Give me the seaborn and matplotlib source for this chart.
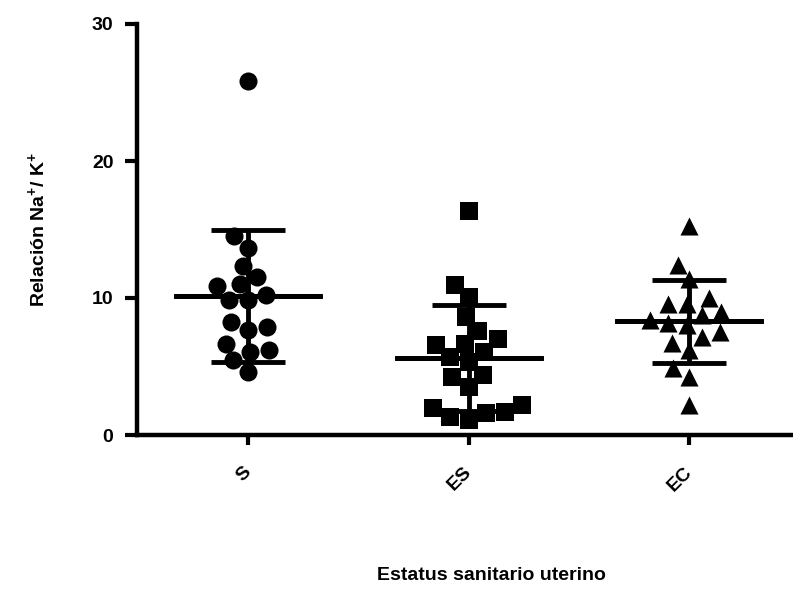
import numpy as np
import pandas as pd
import matplotlib
matplotlib.use("Agg")
import matplotlib.pyplot as plt
import seaborn as sns

# ---- data ----
categorias = ["S", "ES", "EC"]
valores_S = [25.86, 14.55, 13.67, 12.36, 11.02, 11.53, 10.88, 10.24, 9.83,
             9.85, 8.27, 7.64, 7.88, 6.66, 6.20, 6.04, 5.45, 4.62]
valores_ES = [16.35, 10.95, 10.05, 8.64, 7.59, 6.64, 6.98, 6.08, 6.57, 5.35,
              5.72, 4.21, 4.38, 3.53, 1.95, 2.19, 1.63, 1.70, 1.09, 1.34]
valores_EC = [15.23, 12.41, 11.36, 10.02, 9.54, 9.54, 8.78, 8.96, 8.18, 8.39,
              8.00, 7.18, 7.50, 6.69, 6.20, 4.91, 4.21, 2.19]
y_ticks = [0, 10, 20, 30]
x_titulo = "Estatus sanitario uterino"
y_titulo = r"Relación Na$^{+}$/ K$^{+}$"

marcadores = {"S": "o", "ES": "s", "EC": "^"}

df = pd.DataFrame({
    "grupo": (["S"] * len(valores_S) + ["ES"] * len(valores_ES)
              + ["EC"] * len(valores_EC)),
    "valor": valores_S + valores_ES + valores_EC,
})

plt.rcParams["font.family"] = ["Liberation Sans", "DejaVu Sans"]
plt.rcParams["font.weight"] = "bold"
plt.rcParams["mathtext.fontset"] = "custom"
plt.rcParams["mathtext.rm"] = "Liberation Sans:bold"
plt.rcParams["mathtext.bf"] = "Liberation Sans:bold"
plt.rcParams["mathtext.default"] = "bf"

fig = plt.figure(figsize=(7.93, 5.91), dpi=100)
ax = fig.add_axes([137 / 793, 156 / 591, 656 / 793, 411 / 591])

for cat in categorias:
    sns.swarmplot(data=df[df["grupo"] == cat], x="grupo", y="valor",
                  order=categorias, marker=marcadores[cat], size=13,
                  color="black", linewidth=0, ax=ax, zorder=2)

# mean +/- SD
sns.pointplot(data=df, x="grupo", y="valor", order=categorias,
              errorbar="sd", capsize=0.336, color="black",
              marker="", linestyle="none",
              err_kws={"linewidth": 3.5, "zorder": 5, "solid_capstyle": "butt"},
              ax=ax)
# mean line
sns.pointplot(data=df, x="grupo", y="valor", order=categorias,
              errorbar=lambda v: (np.mean(v), np.mean(v)), capsize=0.672,
              color="black", marker="", linestyle="none",
              err_kws={"linewidth": 3.5, "zorder": 5, "solid_capstyle": "butt"},
              ax=ax)

ax.set_xlim(-0.503, 2.47)
ax.set_ylim(0, 30)
ax.set_yticks(y_ticks)
ax.set_yticklabels([str(t) for t in y_ticks], fontsize=14, fontweight="bold")
ax.set_xticks(range(len(categorias)))
ax.set_xticklabels(categorias, fontsize=14, fontweight="bold", rotation=45,
                   ha="right", va="center", rotation_mode="anchor")

for s in ["top", "right"]:
    ax.spines[s].set_visible(False)
for s in ["left", "bottom"]:
    ax.spines[s].set_linewidth(3.2)
    ax.spines[s].set_capstyle("projecting")
ax.tick_params(axis="y", length=9, width=3, pad=8)
ax.tick_params(axis="x", length=7, width=3, pad=18)

ax.set_xlabel(x_titulo, fontsize=14, fontweight="bold")
ax.xaxis.set_label_coords(0.541, -0.32)
ax.set_ylabel(y_titulo, fontsize=14, fontweight="bold")
ax.yaxis.set_label_coords(-0.136, 0.5)

fig.savefig("out.png", dpi=100)
